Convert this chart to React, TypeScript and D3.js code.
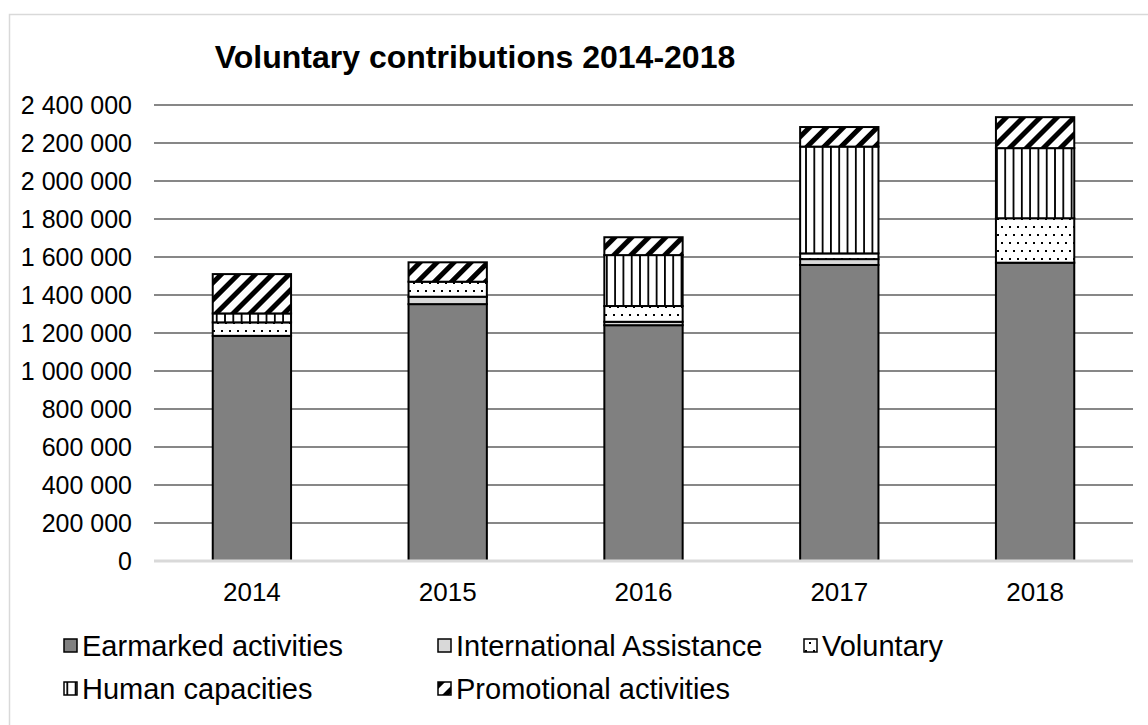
import React from "react";
import * as d3 from "d3";

const years = ["2014", "2015", "2016", "2017", "2018"];
const earmarked = [1185000, 1352000, 1241000, 1558000, 1570000];
const international = [0, 39000, 18000, 31000, 0];
const voluntary = [71000, 79000, 83000, 30000, 234000];
const human = [47000, 0, 268000, 562000, 369000];
const promotional = [207000, 102000, 94000, 103000, 163000];
const seriesNames = [
  "Earmarked activities",
  "International Assistance",
  "Voluntary",
  "Human capacities",
  "Promotional activities",
];
const yTicks = [0, 200000, 400000, 600000, 800000, 1000000, 1200000, 1400000, 1600000, 1800000, 2000000, 2200000, 2400000];

const W = 1148;
const H = 725;
const FONT = "'Liberation Sans', Arial, sans-serif";
const fills = ["#808080", "#d9d9d9", "url(#pDots)", "url(#pVert)", "url(#pDiag)"];

export default function App() {
  const keys = ["e", "i", "v", "h", "p"];
  const rows = years.map((y, i) => ({
    year: y,
    e: earmarked[i],
    i: international[i],
    v: voluntary[i],
    h: human[i],
    p: promotional[i],
  }));
  const stack = d3.stack<any>().keys(keys)(rows);
  const x = d3.scaleBand().domain(years).range([154, 1133]).paddingInner(0.6).paddingOuter(0.3);
  const y = d3.scaleLinear().domain([0, 2400000]).range([561, 105]);
  const fmt = (v: number) => d3.format(",")(v).replace(/,/g, "\u00a0");

  const legend = [
    { x: 64, y: 646 },
    { x: 438, y: 646 },
    { x: 804, y: 646 },
    { x: 64, y: 689 },
    { x: 438, y: 689 },
  ];

  return (
    <svg width={W} height={H} style={{ position: "absolute", left: 0, top: 0 }} fontFamily={FONT}>
      <defs>
        <pattern id="pDots" width="8" height="16" patternUnits="userSpaceOnUse">
          <rect width="8" height="16" fill="#fff" />
          <rect x="1" y="2" width="2" height="2" fill="#000" />
          <rect x="5" y="10" width="2" height="2" fill="#000" />
        </pattern>
        <pattern id="pVert" width="8.3" height="8" patternUnits="userSpaceOnUse">
          <rect width="8.3" height="8" fill="#fff" />
          <rect x="0" y="0" width="1.8" height="8" fill="#000" />
        </pattern>
        <pattern id="pDiag" width="12" height="12" patternUnits="userSpaceOnUse" patternTransform="rotate(45)">
          <rect width="12" height="12" fill="#fff" />
          <rect x="0" y="0" width="5" height="12" fill="#000" />
        </pattern>
      </defs>
      <rect x={0} y={0} width={W} height={H} fill="#fff" />
      <rect x={9.5} y={14.5} width={1300} height={900} fill="none" stroke="#d9d9d9" strokeWidth={1.5} />
      <text x={475} y={68} textAnchor="middle" fontSize={32} fontWeight="bold" fill="#000">
        Voluntary contributions 2014-2018
      </text>
      {yTicks.map((t) =>
        t === 0 ? null : (
          <line key={t} x1={154} x2={1133} y1={y(t)} y2={y(t)} stroke="#878787" strokeWidth={2} />
        )
      )}
      {yTicks.map((t) => (
        <text key={"l" + t} x={132} y={y(t)} dy="0.35em" textAnchor="end" fontSize={25} fill="#000">
          {fmt(t)}
        </text>
      ))}
      {stack.map((s, si) =>
        s.map((d, di) => {
          const h = y(d[0]) - y(d[1]);
          if (h <= 0) return null;
          return (
            <rect
              key={si + "-" + di}
              x={x(years[di])!}
              width={x.bandwidth()}
              y={y(d[1])}
              height={h}
              fill={fills[si]}
              stroke="#000"
              strokeWidth={2}
            />
          );
        })
      )}
      <line x1={154} x2={1133} y1={y(0)} y2={y(0)} stroke="#d9d9d9" strokeWidth={3} />
      {years.map((yr) => (
        <text key={yr} x={x(yr)! + x.bandwidth() / 2} y={601} textAnchor="middle" fontSize={26} fill="#000">
          {yr}
        </text>
      ))}
      {seriesNames.map((n, i) => (
        <g key={n}>
          <rect x={legend[i].x} y={legend[i].y - 7} width={13} height={13} fill={fills[i]} stroke="#000" strokeWidth={1.5} />
          <text x={legend[i].x + 18} y={legend[i].y} dy="0.35em" fontSize={29} fill="#000">
            {n}
          </text>
        </g>
      ))}
    </svg>
  );
}
